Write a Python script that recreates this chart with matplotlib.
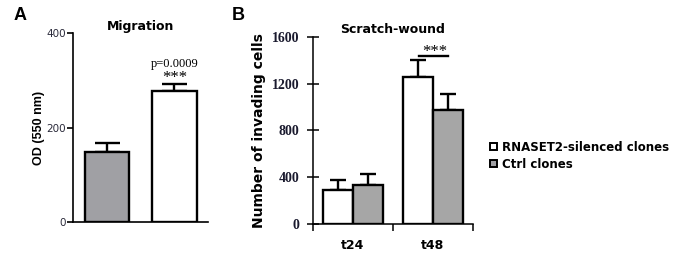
import matplotlib.pyplot as plt
from matplotlib.patches import Patch

# Panel A: migration (OD 550 nm)
mig_groups = ["Ctrl clones", "RNASET2-silenced clones"]
mig_mean = [148, 278]
mig_err = [19, 14]

# Panel B: scratch-wound (number of invading cells)
times = ["t24", "t48"]
silenced_mean = [291, 1252]
silenced_err = [85, 148]
ctrl_mean = [336, 975]
ctrl_err = [89, 137]

GRAY_A = "#a0a0a4"
GRAY_B = "#a6a6a6"
EDGE = "black"

fig = plt.figure(figsize=(6.83, 2.59), dpi=100)
W, H = 683, 259


def ax_at(x0, y0, x1, y1):
    return fig.add_axes([x0 / W, 1 - y1 / H, (x1 - x0) / W, (y1 - y0) / H])


# ---------- Panel A ----------
axA = ax_at(73.3, 33, 208, 222)
posA = [0.75, 2.25]
axA.bar(posA, mig_mean, width=1.0, color=[GRAY_A, "white"], edgecolor=EDGE, linewidth=1.7, zorder=2)
axA.errorbar(posA, mig_mean, yerr=[[0, 0], mig_err], fmt="none", ecolor=EDGE,
             elinewidth=1.7, capsize=9, capthick=1.7, zorder=1)
axA.set_xlim(0, 3)
axA.set_ylim(0, 400)
axA.set_yticks([0, 200, 400])
axA.set_xticks([])
for s in ["top", "right"]:
    axA.spines[s].set_visible(False)
for s in ["left", "bottom"]:
    axA.spines[s].set_linewidth(1.2)
axA.tick_params(axis="y", direction="out", length=4, width=1.2, pad=1,
                labelsize=7.5, labelcolor="#2a2a3a")
axA.set_ylabel("OD (550 nm)", fontsize=9, fontweight="bold", family="Liberation Sans", labelpad=1)
axA.set_title("Migration", fontsize=9, fontweight="bold", pad=1)
axA.text(posA[1], 322, "p=0.0009", ha="center", va="bottom", fontsize=9, family="Liberation Serif")
axA.text(posA[1], 288, "***", ha="center", va="bottom", fontsize=12, family="Liberation Serif")

# ---------- Panel B ----------
axB = ax_at(313, 36.7, 472.7, 224)
centers = [0.5, 1.5]
bw = 0.373
xs_sil = [c - bw / 2 for c in centers]
xs_ctl = [c + bw / 2 for c in centers]
axB.bar(xs_sil, silenced_mean, width=bw, color="white", edgecolor=EDGE, linewidth=1.7, zorder=2)
axB.bar(xs_ctl, ctrl_mean, width=bw, color=GRAY_B, edgecolor=EDGE, linewidth=1.7, zorder=2)
axB.errorbar(xs_sil, silenced_mean, yerr=[[0, 0], silenced_err], fmt="none", ecolor=EDGE,
             elinewidth=1.7, capsize=5.5, capthick=1.7, zorder=1)
axB.errorbar(xs_ctl, ctrl_mean, yerr=[[0, 0], ctrl_err], fmt="none", ecolor=EDGE,
             elinewidth=1.7, capsize=5.5, capthick=1.7, zorder=1)
axB.set_xlim(0, 2)
axB.set_ylim(0, 1600)
axB.set_yticks([0, 400, 800, 1200, 1600])
axB.set_yticklabels(["0", "400", "800", "1200", "1600"], family="Liberation Serif",
                    fontweight="bold", fontsize=10, color="#1a1a2e")
axB.set_xticks([0, 1, 2])
axB.set_xticklabels([])
axB.set_xticks(centers, minor=True)
axB.set_xticklabels(times, minor=True, fontsize=9, fontweight="bold")
axB.tick_params(axis="x", which="minor", length=0, pad=11)
axB.tick_params(axis="x", which="major", direction="out", length=5, width=1.1)
axB.tick_params(axis="y", direction="inout", length=8, width=1.1, pad=6)
for s in ["top", "right"]:
    axB.spines[s].set_visible(False)
for s in ["left", "bottom"]:
    axB.spines[s].set_linewidth(1.1)
axB.set_ylabel("Number of invading cells", fontsize=10, fontweight="bold", labelpad=4)
axB.set_title("Scratch-wound", fontsize=9, fontweight="bold", pad=3)
axB.plot([xs_sil[1] + 0.02, xs_ctl[1] + 0.01], [1431, 1431], color=EDGE, linewidth=1.7)
axB.text(centers[1] + 0.02, 1405, "***", ha="center", va="bottom", fontsize=12, family="Liberation Serif")

# panel letters
fig.text(14 / W, 1 - 15 / H, "A", fontsize=13, fontweight="bold", family="Liberation Sans", va="center")
fig.text(232 / W, 1 - 15 / H, "B", fontsize=13, fontweight="bold", family="Liberation Sans", va="center")

# legend
handles = [Patch(facecolor="white", edgecolor=EDGE, linewidth=1.4),
           Patch(facecolor=GRAY_A, edgecolor=EDGE, linewidth=1.4)]
fig.legend(handles, ["RNASET2-silenced clones", "Ctrl clones"], loc="upper left",
           bbox_to_anchor=(485 / W, 1 - 136 / H), frameon=False,
           handlelength=0.6, handleheight=0.6, handletextpad=0.4, labelspacing=0.35,
           prop={"weight": "bold", "size": 8.5}, borderaxespad=0)

fig.savefig("out.png", dpi=100)
